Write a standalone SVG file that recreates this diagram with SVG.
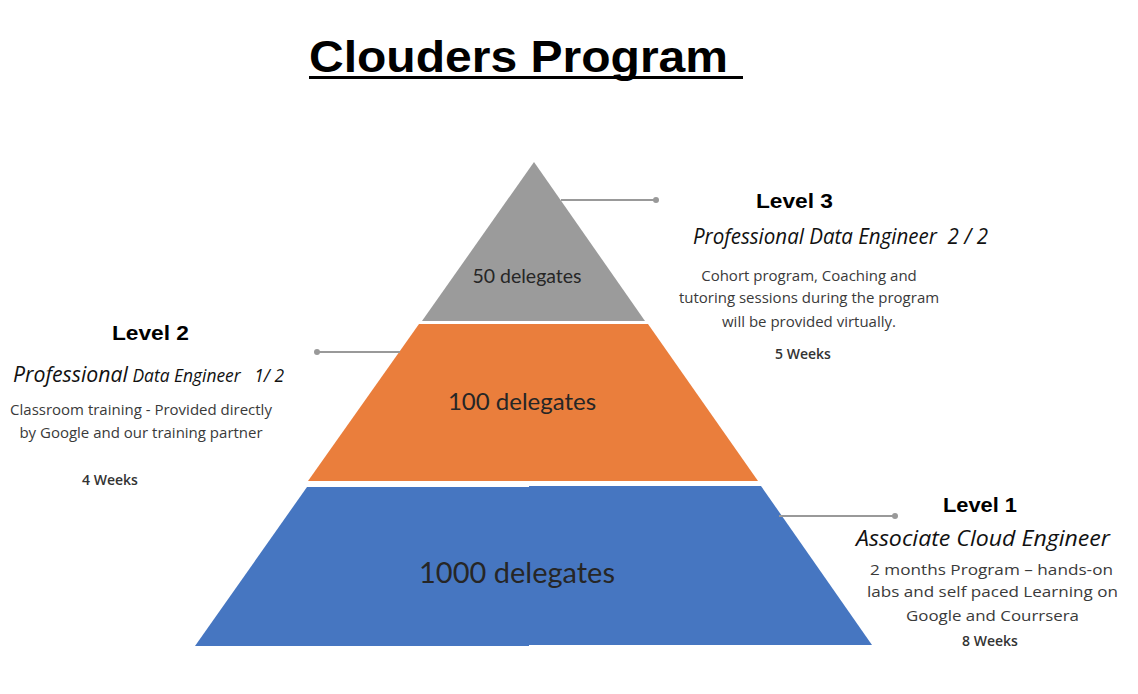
<svg xmlns="http://www.w3.org/2000/svg" width="1138" height="694" viewBox="0 0 1138 694">
  <style>
    .title { font-family: "Liberation Sans", Arial, sans-serif; font-weight: bold; font-size: 44px; fill: #000; }
    .lvl { font-family: "Liberation Sans", Arial, sans-serif; font-weight: bold; font-size: 21px; fill: #000; }
    .sub { font-family: "Open Sans", sans-serif; font-style: italic; font-size: 21px; fill: #111; }
    .desc { font-family: "Open Sans", sans-serif; font-size: 15px; fill: #3a3a3a; }
    .wk { font-family: "Open Sans", sans-serif; font-weight: 600; font-size: 14px; fill: #333; }
    .cnt { font-family: "Lato", "Liberation Sans", sans-serif; fill: #262626; }
    .conn { stroke: #999; stroke-width: 2; fill: none; }
    .dot { fill: #999; }
  </style>

  <!-- Title -->
  <g id="title">
    <text class="title" x="309" y="72" textLength="419" lengthAdjust="spacingAndGlyphs">Clouders Program</text>
    <rect x="309" y="76" width="434" height="3" fill="#000"/>
  </g>

  <!-- Pyramid tiers -->
  <g id="tier3">
    <polygon points="534,162 645,321 422,321" fill="#9B9B9B"/>
    <text class="cnt" x="527" y="283" font-size="19.5" text-anchor="middle">50 delegates</text>
  </g>
  <g id="tier2">
    <polygon points="419,324 648,324 758,481 308,481" fill="#EA7E3C"/>
    <text class="cnt" x="522" y="410" font-size="24" text-anchor="middle">100 delegates</text>
  </g>
  <g id="tier1">
    <polygon points="307,487 529,487 529,646 195,646" fill="#4676C1"/>
    <polygon points="529,486 761,486 872,645 529,645" fill="#4676C1"/>
    <text class="cnt" x="517" y="583" font-size="29" text-anchor="middle">1000 delegates</text>
  </g>

  <!-- Connectors -->
  <g id="connectors">
    <line class="conn" x1="561" y1="200" x2="656" y2="200"/>
    <circle class="dot" cx="656" cy="200" r="3"/>
    <line class="conn" x1="317" y1="352" x2="400" y2="352"/>
    <circle class="dot" cx="317" cy="352" r="3"/>
    <line class="conn" x1="779" y1="516" x2="895" y2="516"/>
    <circle class="dot" cx="895" cy="516" r="3"/>
  </g>

  <!-- Level 3 -->
  <g id="level3">
    <text class="lvl" x="756" y="208" textLength="77" lengthAdjust="spacingAndGlyphs">Level 3</text>
    <text class="sub" x="693" y="244" textLength="295" lengthAdjust="spacingAndGlyphs" xml:space="preserve">Professional Data Engineer  2 / 2</text>
    <text class="desc" x="809" y="281" text-anchor="middle">Cohort program, Coaching and</text>
    <text class="desc" x="809" y="303" text-anchor="middle">tutoring sessions during the program</text>
    <text class="desc" x="809" y="327" text-anchor="middle">will be provided virtually.</text>
    <text class="wk" x="803" y="359" text-anchor="middle">5 Weeks</text>
  </g>

  <!-- Level 2 -->
  <g id="level2">
    <text class="lvl" x="112" y="340" textLength="77" lengthAdjust="spacingAndGlyphs">Level 2</text>
    <text class="sub" x="13" y="382" textLength="271" lengthAdjust="spacingAndGlyphs" xml:space="preserve"><tspan font-size="22">Professional</tspan><tspan font-size="18"> Data Engineer   1/ 2</tspan></text>
    <text class="desc" x="141" y="415" text-anchor="middle">Classroom training - Provided directly</text>
    <text class="desc" x="141" y="438" text-anchor="middle">by Google and our training partner</text>
    <text class="wk" x="110" y="485" text-anchor="middle">4 Weeks</text>
  </g>

  <!-- Level 1 -->
  <g id="level1">
    <text class="lvl" x="943" y="512" textLength="74" lengthAdjust="spacingAndGlyphs">Level 1</text>
    <text class="sub" x="856" y="546" textLength="254" lengthAdjust="spacingAndGlyphs">Associate Cloud Engineer</text>
    <text class="desc" x="870" y="575" textLength="243" lengthAdjust="spacingAndGlyphs">2 months Program – hands-on</text>
    <text class="desc" x="867" y="597" textLength="251" lengthAdjust="spacingAndGlyphs">labs and self paced Learning on</text>
    <text class="desc" x="906" y="621" textLength="173" lengthAdjust="spacingAndGlyphs">Google and Courrsera</text>
    <text class="wk" x="990" y="646" text-anchor="middle">8 Weeks</text>
  </g>
</svg>
